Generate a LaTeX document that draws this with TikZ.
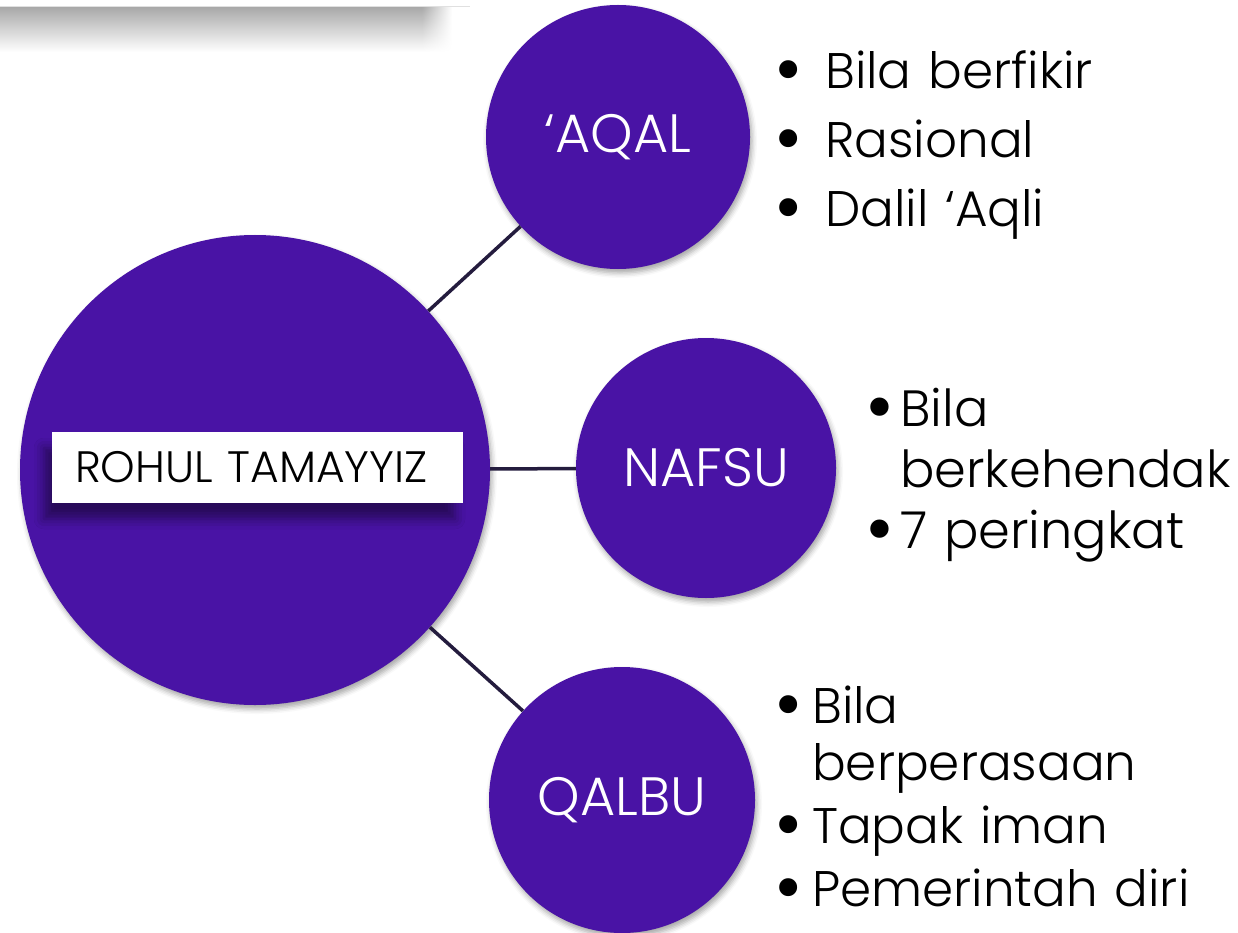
\documentclass[tikz,border=0pt]{standalone}
\usepackage{fontspec}
\setmainfont{Poppins}[UprightFont=* Light]
\usetikzlibrary{shadows.blur,fadings}

\definecolor{orbpurple}{RGB}{73,19,165}
\definecolor{linkdark}{RGB}{36,28,62}

% bullet line with hanging indent, bullet centred 7pt from the left
\newcommand{\bulletline}[2]{\par\hangindent=#1\hangafter=1\noindent
  \makebox[#1][l]{\hspace{7pt}\makebox[0pt]{\raisebox{-0.15em}{\scalebox{1.55}{\textbullet}}}}#2}

\begin{document}
\begin{tikzpicture}[
  x=1pt, y=-1pt,
  every node/.style={inner sep=0pt},
  orb/.style={
    circle,
    fill=orbpurple,
    text=white,
    font=\fontsize{54}{58}\selectfont,
    blur shadow={shadow xshift=2pt, shadow yshift=-4pt, shadow blur radius=5pt, shadow opacity=35},
  },
  namebox/.style={
    fill=white,
    text width=365pt,
    align=left,
    inner xsep=23pt,
    minimum height=71pt,
    font=\fontsize{44}{48}\selectfont,
    blur shadow={shadow xshift=-8pt, shadow yshift=-16pt, shadow blur radius=10pt, shadow opacity=45},
  },
  points/.style={anchor=north west, align=left},
  link/.style={draw=linkdark, line width=3.5pt},
  band/.style={top color=black!34, middle color=black!27, bottom color=white},
  ]
  \useasboundingbox (0,0) rectangle (1238,933);

  % shadow band at the top
  \shade[band] (0,7) rectangle (422,52);
  \shade[band, path fading=east] (422,7) rectangle (452,52);
  \draw[black!12, line width=1pt] (0,7) -- (470,7);

  % circles
  \node[orb, minimum size=470pt] (rohul) at (255,470) {};
  \node[orb, minimum size=264pt] (aqal) at (618,137) {‘AQAL};
  \node[orb, minimum size=260pt] (nafsu) at (706,468) {NAFSU};
  \node[orb, minimum size=266pt] (qalbu) at (622,800) {QALBU};
  \node[namebox] (rohul-label) at (257.5,467.5) {ROHUL TAMAYYIZ};

  % connectors
  \draw[link] (rohul) -- (aqal);
  \draw[link] (rohul) -- (nafsu);
  \draw[link] (rohul) -- (qalbu);

  % bullet lists
  \node[points, text width=450pt, font=\fontsize{50}{69}\selectfont] (aqal-points) at (781,19)
    {\bulletline{44pt}{Bila berfikir}\bulletline{44pt}{Rasional}\bulletline{44pt}{Dalil ‘Aqli}};
  \node[points, text width=365pt, font=\fontsize{51}{61}\selectfont] (nafsu-points) at (873,365)
    {\bulletline{27pt}{Bila\newline berkehendak}\bulletline{27pt}{7 peringkat}};
  \node[points, text width=450pt, font=\fontsize{50}{57}\selectfont, execute at begin node={\setlength{\parskip}{6pt}}] (qalbu-points) at (781,660)
    {\bulletline{31pt}{Bila\newline berperasaan}\bulletline{31pt}{Tapak iman}\bulletline{31pt}{Pemerintah diri}};
\end{tikzpicture}
\end{document}
